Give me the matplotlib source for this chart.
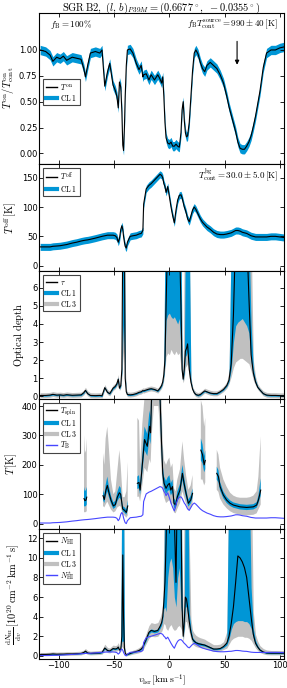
import numpy as np
import matplotlib
matplotlib.use("Agg")
import matplotlib.pyplot as plt
from matplotlib.lines import Line2D

plt.rcParams["mathtext.fontset"] = "cm"
plt.rcParams["font.family"] = ["DejaVu Sans"]
plt.rcParams["xtick.direction"] = "in"
plt.rcParams["ytick.direction"] = "in"
plt.rcParams["xtick.top"] = True
plt.rcParams["ytick.right"] = True
plt.rcParams["axes.linewidth"] = 0.8

nan = np.nan

# ---- velocity grid shared by panels 1, 2, 3 and 5 (km/s) -------------
vel = [-117, -112, -108, -105.5, -102, -99, -96, -93, -88, -84,
       -80, -77.5, -76, -74, -71.5, -67, -63, -61, -58.5, -56,
       -54, -51, -49, -47.5, -46.3, -45.2, -44, -43, -42.2, -41.5,
       -40.7, -40, -39, -38, -35.5, -33, -30, -27.5, -25.5, -24,
       -23.3, -21, -18.5, -16.5, -13.5, -10.5, -8.5, -7, -6, -5,
       -4, -3, -1.5, 0, 1.5, 3, 4.5, 6, 7.5, 9,
       10.5, 11.5, 12.5, 13.5, 14.5, 15.5, 16.5, 18, 19.5, 21,
       22.5, 24, 26, 28, 30, 32, 34, 37, 40, 43,
       46, 49, 52, 54, 56, 58, 60, 62, 64, 66,
       68, 70, 72, 74, 76, 78, 80, 82, 85, 88,
       92, 96, 100, 104]

# ---- panel 1: T_on / T_on_cont -------------------------------------
t_on = [1.00, 0.985, 0.95, 0.89, 0.93, 0.915, 0.94, 0.90, 0.93, 0.92,
        0.91, 0.82, 0.74, 0.85, 0.97, 0.985, 0.97, 1.00, 0.65, 0.79,
        0.87, 0.66, 0.61, 0.55, 0.44, 0.69, 0.64, 0.40, 0.08, 0.03,
        0.25, 0.55, 0.85, 1.00, 1.01, 0.97, 0.87, 0.81, 0.85, 0.74,
        0.76, 0.77, 0.71, 0.76, 0.71, 0.76, 0.72, 0.68, 0.74, 0.55,
        0.30, 0.15, 0.10, 0.09, 0.11, 0.07, 0.07, 0.09, 0.07, 0.06,
        0.20, 0.42, 0.50, 0.32, 0.20, 0.16, 0.17, 0.30, 0.55, 0.80,
        0.97, 1.00, 0.96, 0.88, 0.82, 0.79, 0.85, 0.88, 0.85, 0.82,
        0.76, 0.68, 0.55, 0.45, 0.37, 0.29, 0.21, 0.11, 0.05, 0.04,
        0.04, 0.07, 0.11, 0.17, 0.26, 0.36, 0.48, 0.60, 0.83, 0.97,
        1.00, 1.00, 1.02, 1.03]
t_on_sig = 0.045

# ---- panel 2: T_off [K] ----------------------------------------------
t_off = [32, 32, 32, 33, 33.5, 34, 35, 36, 38.5, 40,
         42, 43, 43.5, 44, 45, 47, 49, 50, 51, 52,
         52, 52, 51, 48, 40, 46, 62, 68, 62, 50,
         40, 33, 30, 40, 50, 51, 52, 54, 55, 60,
         105, 131, 137, 140, 146, 152, 156, 154, 150, 140,
         135, 125, 135, 118, 100, 85, 73, 95, 112, 120,
         121, 116, 108, 100, 95, 88, 80, 75, 85, 95,
         100, 96, 88, 80, 74, 70, 66, 62, 57, 54,
         53, 53, 54, 55, 56, 58, 60, 60, 59, 57,
         56, 55, 53, 51, 50, 49, 49, 49, 49, 49,
         50, 50, 49, 48]
t_off_sig = 6.0

# ---- panel 3: optical depth -----------------------------------------
tau = [0.05, 0.05, 0.07, 0.11, 0.07, 0.08, 0.06, 0.09, 0.06, 0.07,
       0.08, 0.20, 0.33, 0.15, 0.05, 0.04, 0.05, 0.03, 0.48, 0.22,
       0.15, 0.45, 0.55, 0.70, 0.95, 0.45, 0.60, 1.50, 9.0, 9.0,
       9.0, 1.00, 0.25, 0.10, 0.08, 0.10, 0.15, 0.22, 0.25, 0.32,
       0.30, 0.35, 0.40, 0.42, 0.38, 0.30, 0.45, 0.60, 0.80, 1.20,
       2.00, 5.00, 9.0, 9.0, 9.0, 9.0, 9.0, 9.0, 9.0, 9.0,
       5.00, 1.50, 0.95, 1.50, 2.50, 2.65, 2.90, 1.50, 0.80, 0.40,
       0.20, 0.10, 0.06, 0.10, 0.20, 0.30, 0.25, 0.18, 0.15, 0.15,
       0.25, 0.38, 0.60, 0.90, 1.80, 4.50, 9.0, 9.0, 9.0, 9.0,
       9.0, 9.0, 5.50, 2.30, 1.30, 0.80, 0.50, 0.35, 0.15, 0.07,
       0.05, 0.05, 0.04, 0.04]
tau_cl1_lo = [0.01, 0.01, 0.03, 0.07, 0.03, 0.04, 0.02, 0.05, 0.02, 0.03,
              0.04, 0.16, 0.29, 0.11, 0.01, 0.00, 0.01, -0.01, 0.43, 0.18,
              0.11, 0.40, 0.50, 0.64, 0.88, 0.40, 0.54, 1.30, 3.00, 4.00,
              2.50, 0.90, 0.21, 0.06, 0.04, 0.06, 0.11, 0.18, 0.21, 0.28,
              0.26, 0.31, 0.36, 0.38, 0.34, 0.26, 0.40, 0.55, 0.74, 1.10,
              1.80, 4.20, 4.50, 4.60, 4.40, 4.30, 4.40, 4.20, 4.00, 4.30,
              2.50, 1.30, 0.88, 1.30, 2.20, 2.30, 2.50, 1.30, 0.72, 0.36,
              0.16, 0.06, 0.02, 0.06, 0.16, 0.26, 0.21, 0.14, 0.11, 0.11,
              0.21, 0.34, 0.55, 0.82, 1.50, 3.00, 3.90, 4.10, 4.20, 4.30,
              4.10, 3.90, 3.50, 1.90, 1.10, 0.70, 0.45, 0.31, 0.11, 0.03,
              0.01, 0.01, 0.00, 0.00]
tau_cl1_hi = [0.09, 0.09, 0.11, 0.15, 0.11, 0.12, 0.10, 0.13, 0.10, 0.11,
              0.12, 0.24, 0.38, 0.19, 0.09, 0.08, 0.09, 0.07, 0.53, 0.26,
              0.19, 0.50, 0.60, 0.76, 1.05, 0.50, 0.66, 1.80, 9.0, 9.0,
              9.0, 1.20, 0.30, 0.14, 0.12, 0.14, 0.19, 0.26, 0.29, 0.36,
              0.34, 0.39, 0.44, 0.46, 0.42, 0.34, 0.50, 0.66, 0.88, 1.40,
              9.0, 9.0, 9.0, 9.0, 9.0, 9.0, 9.0, 9.0, 9.0, 9.0,
              9.0, 1.80, 1.02, 1.80, 9.0, 9.0, 9.0, 9.0, 0.90, 0.45,
              0.24, 0.14, 0.10, 0.14, 0.24, 0.34, 0.29, 0.22, 0.19, 0.19,
              0.29, 0.42, 0.66, 1.00, 9.0, 9.0, 9.0, 9.0, 9.0, 9.0,
              9.0, 9.0, 9.0, 4.00, 1.55, 0.90, 0.56, 0.40, 0.19, 0.11,
              0.09, 0.09, 0.08, 0.08]
tau_cl3_lo = [-0.07, -0.07, -0.05, -0.01, -0.05, -0.04, -0.06, -0.03, -0.06, -0.05,
              -0.04, 0.08, 0.20, 0.03, -0.07, -0.08, -0.07, -0.09, 0.35, 0.10,
              0.03, 0.32, 0.42, 0.56, 0.78, 0.32, 0.46, 1.00, 2.00, 2.50,
              1.80, 0.70, 0.12, -0.02, -0.04, -0.02, 0.03, 0.10, 0.13, 0.20,
              0.18, 0.23, 0.28, 0.30, 0.26, 0.18, 0.32, 0.45, 0.62, 0.90,
              1.50, 2.20, 2.40, 2.30, 2.60, 2.40, 2.30, 2.50, 2.30, 2.40,
              1.60, 1.00, 0.75, 1.00, 1.60, 1.70, 1.80, 1.00, 0.60, 0.28,
              0.08, -0.02, -0.06, -0.02, 0.08, 0.18, 0.13, 0.06, 0.03, 0.03,
              0.13, 0.26, 0.45, 0.70, 1.10, 1.60, 1.90, 2.00, 2.10, 2.10,
              2.00, 1.90, 1.80, 1.40, 0.90, 0.60, 0.38, 0.23, 0.03, -0.05,
              -0.07, -0.07, -0.08, -0.08]
tau_cl3_hi = [0.20, 0.20, 0.22, 0.26, 0.22, 0.23, 0.21, 0.24, 0.21, 0.22,
              0.23, 0.35, 0.50, 0.30, 0.20, 0.19, 0.20, 0.18, 0.65, 0.37,
              0.30, 0.62, 0.72, 0.88, 1.20, 0.62, 0.78, 3.00, 9.0, 9.0,
              9.0, 1.80, 0.42, 0.25, 0.23, 0.25, 0.30, 0.37, 0.40, 0.47,
              0.45, 0.50, 0.55, 0.57, 0.53, 0.45, 0.62, 0.80, 1.10, 2.20,
              9.0, 9.0, 9.0, 9.0, 9.0, 9.0, 9.0, 9.0, 9.0, 9.0,
              9.0, 3.00, 1.20, 9.0, 9.0, 9.0, 9.0, 9.0, 1.10, 0.55,
              0.35, 0.25, 0.21, 0.25, 0.35, 0.45, 0.40, 0.33, 0.30, 0.30,
              0.40, 0.55, 0.80, 1.40, 9.0, 9.0, 9.0, 9.0, 9.0, 9.0,
              9.0, 9.0, 9.0, 9.0, 2.00, 1.10, 0.68, 0.50, 0.30, 0.22,
              0.20, 0.20, 0.19, 0.19]

# ---- panel 4: spin temperature (own velocities, nan = gap) -----------
vel_spin = [-77.3, -76.5, -75.5, -74.8, nan,
            -60.1, -58.9, -57.7, -56.2, -55, -52.9, -50.7, -48.9, -47.1,
            -45.3, -44.1, -42.3, -40.5, -39, -37.7, nan,
            -29, -27.5, -26.5, -24.5, -22.5, -20, -18, -17, -16, -14,
            -12, -10, -9, -8.4, -7.2, -6, -4.8, -3, -1.5, 0,
            1.3, 2.8, 4.2, 5.7, 7.2, 9.6, 11.8, 13.3, 15.1, 17.2,
            19.3, 21, nan,
            28.5, 30, 31.5, 32.5, nan,
            42.9, 44.4, 45.9, 48.9, 51.9, 55, 58, 61, 64, 67,
            70, 73, 76, 79, 80.6, 82.7]
t_spin = [85, 78, 80, 90, nan,
          95, 82, 110, 130, 110, 80, 60, 65, 90,
          105, 100, 50, 45, 38, 60, nan,
          137, 140, 114, 200, 286, 263, 331, 309, 450, 600,
          600, 600, 520, 423, 286, 171, 137, 120, 131, 137,
          114, 126, 69, 63, 91, 114, 171, 137, 103, 69,
          80, 103, nan,
          250, 235, 200, 215, nan,
          171, 160, 126, 97, 80, 69, 63, 60, 57, 56,
          55, 56, 57, 63, 80, 114]
t_spin_cl1_lo = [60, 58, 60, 65, nan,
                 80, 70, 92, 110, 93, 68, 50, 55, 76,
                 88, 84, 42, 37, 30, 45, nan,
                 118, 120, 98, 172, 250, 230, 290, 270, 390, 520,
                 520, 520, 450, 370, 250, 150, 118, 100, 110, 115,
                 96, 106, 55, 50, 75, 98, 148, 118, 88, 58,
                 68, 88, nan,
                 215, 205, 175, 185, nan,
                 150, 140, 112, 86, 70, 60, 54, 51, 48, 47,
                 46, 47, 48, 54, 68, 95]
t_spin_cl1_hi = [125, 110, 115, 125, nan,
                 115, 98, 132, 160, 132, 95, 72, 78, 108,
                 128, 122, 60, 55, 48, 80, nan,
                 160, 165, 133, 235, 330, 305, 385, 360, 520, 700,
                 700, 700, 600, 490, 330, 198, 160, 145, 158, 165,
                 137, 150, 85, 78, 110, 135, 200, 160, 120, 82,
                 95, 120, nan,
                 290, 270, 230, 250, nan,
                 194, 182, 142, 109, 91, 79, 72, 69, 66, 65,
                 64, 65, 66, 73, 95, 154]
t_spin_cl3_lo = [40, 38, 40, 42, nan,
                 60, 55, 65, 75, 65, 48, 38, 42, 55,
                 60, 58, 32, 27, 20, 28, nan,
                 91, 92, 75, 130, 190, 175, 220, 205, 300, 400,
                 400, 400, 350, 280, 190, 115, 90, 70, 75, 80,
                 65, 70, 38, 35, 50, 70, 110, 90, 68, 45,
                 52, 68, nan,
                 150, 150, 130, 140, nan,
                 115, 108, 85, 65, 52, 42, 36, 33, 30, 29,
                 28, 29, 30, 35, 48, 65]
t_spin_cl3_hi = [300, 240, 250, 290, nan,
                 240, 200, 290, 330, 270, 150, 100, 110, 180,
                 250, 200, 90, 90, 110, 210, nan,
                 360, 350, 200, 340, 430, 420, 500, 480, 700, 900,
                 900, 900, 800, 650, 440, 270, 215, 200, 215, 225,
                 190, 205, 120, 110, 150, 185, 280, 220, 165, 115,
                 130, 165, nan,
                 420, 400, 330, 360, nan,
                 251, 235, 190, 150, 125, 105, 95, 90, 88, 88,
                 88, 90, 95, 110, 160, 297]

# brightness temperature (on the shared grid)
t_b = [2, 2, 2, 3, 3.5, 4, 5, 6, 8.5, 10,
       12, 13, 13.5, 14, 15, 17, 19, 20, 21, 22,
       22, 22, 21, 18, 10, 16, 32, 38, 32, 20,
       10, 3, 0, 10, 20, 21, 22, 24, 25, 30,
       75, 101, 107, 110, 116, 122, 126, 124, 120, 110,
       105, 95, 105, 88, 70, 55, 43, 65, 82, 90,
       91, 86, 78, 70, 65, 58, 50, 45, 55, 65,
       70, 66, 58, 50, 44, 40, 36, 32, 27, 24,
       23, 23, 24, 25, 26, 28, 30, 30, 29, 27,
       26, 25, 23, 21, 20, 19, 19, 19, 19, 19,
       20, 20, 19, 18]

# ---- panel 5: dN_HI/dv [1e20 cm^-2 km^-1 s] ---------------------------
n_hi = [0.15, 0.15, 0.17, 0.20, 0.17, 0.18, 0.18, 0.20, 0.20, 0.22,
        0.25, 0.35, 0.48, 0.30, 0.25, 0.28, 0.30, 0.35, 0.80, 0.55,
        0.50, 0.75, 0.70, 0.75, 0.90, 0.60, 0.70, 2.00, 10.3, 4.00,
        0.80, 0.30, 0.10, 0.15, 0.25, 0.35, 0.45, 0.55, 0.70, 0.90,
        1.10, 1.70, 2.40, 2.60, 2.50, 2.60, 3.00, 3.40, 4.00, 5.50,
        7.50, 11.5, 20.0, 20.0, 20.0, 20.0, 14.0, 7.50, 20.0, 20.0,
        15.0, 5.00, 2.00, 3.50, 6.00, 5.80, 5.00, 3.50, 2.40, 1.70,
        1.50, 1.35, 1.25, 1.20, 1.15, 1.10, 1.00, 0.85, 0.70, 0.70,
        0.75, 0.95, 1.30, 2.00, 3.30, 5.00, 7.50, 10.2, 10.0, 9.60,
        9.00, 8.00, 6.00, 4.00, 2.20, 1.30, 0.90, 0.60, 0.40, 0.30,
        0.28, 0.28, 0.28, 0.28]
n_hi_cl1_lo = [0.10, 0.10, 0.12, 0.15, 0.12, 0.13, 0.13, 0.15, 0.15, 0.17,
               0.20, 0.30, 0.42, 0.25, 0.20, 0.23, 0.25, 0.30, 0.70, 0.48,
               0.44, 0.67, 0.62, 0.67, 0.80, 0.53, 0.62, 1.50, 1.50, 1.50,
               0.65, 0.25, 0.06, 0.10, 0.20, 0.30, 0.40, 0.49, 0.63, 0.82,
               1.00, 1.55, 2.25, 2.45, 2.35, 2.45, 2.80, 3.15, 3.70, 4.80,
               5.00, 4.50, 8.00, 9.50, 10.0, 9.00, 6.00, 5.00, 8.00, 9.00,
               5.00, 4.00, 1.80, 3.00, 5.00, 5.00, 4.20, 3.00, 2.10, 1.50,
               1.35, 1.22, 1.12, 1.08, 1.03, 0.99, 0.90, 0.76, 0.62, 0.62,
               0.67, 0.85, 1.10, 1.70, 2.70, 3.30, 3.50, 3.60, 3.60, 3.60,
               3.50, 3.50, 3.30, 2.80, 1.80, 1.10, 0.78, 0.52, 0.34, 0.24,
               0.22, 0.22, 0.22, 0.22]
n_hi_cl1_hi = [0.20, 0.20, 0.22, 0.25, 0.22, 0.23, 0.23, 0.25, 0.25, 0.27,
               0.30, 0.40, 0.55, 0.35, 0.30, 0.33, 0.35, 0.40, 0.90, 0.62,
               0.56, 0.83, 0.78, 0.83, 1.00, 0.67, 0.78, 20.0, 20.0, 20.0,
               0.95, 0.35, 0.14, 0.20, 0.30, 0.40, 0.50, 0.61, 0.77, 0.98,
               1.20, 1.85, 2.55, 2.75, 2.65, 2.75, 3.20, 3.65, 4.30, 7.00,
               20.0, 20.0, 20.0, 20.0, 20.0, 20.0, 20.0, 20.0, 20.0, 20.0,
               20.0, 6.50, 2.20, 4.50, 20.0, 20.0, 20.0, 4.50, 2.80, 1.90,
               1.65, 1.48, 1.38, 1.32, 1.27, 1.21, 1.10, 0.94, 0.78, 0.78,
               0.83, 1.05, 1.50, 20.0, 20.0, 20.0, 20.0, 20.0, 20.0, 20.0,
               20.0, 20.0, 20.0, 7.00, 2.80, 1.60, 1.05, 0.70, 0.46, 0.36,
               0.34, 0.34, 0.34, 0.34]
n_hi_cl3_lo = [0.02, 0.02, 0.04, 0.06, 0.04, 0.05, 0.05, 0.06, 0.06, 0.08,
               0.10, 0.18, 0.28, 0.14, 0.10, 0.12, 0.14, 0.18, 0.50, 0.34,
               0.30, 0.50, 0.45, 0.50, 0.60, 0.38, 0.45, 1.00, 0.80, 0.80,
               0.40, 0.12, 0.00, 0.02, 0.10, 0.18, 0.25, 0.32, 0.42, 0.60,
               0.75, 1.25, 1.80, 2.00, 1.95, 2.00, 2.30, 2.50, 2.80, 3.30,
               3.20, 2.80, 2.60, 3.00, 3.20, 2.80, 2.60, 2.70, 3.00, 3.10,
               2.80, 2.50, 1.40, 2.40, 3.50, 3.50, 3.00, 2.40, 1.70, 1.20,
               1.05, 0.95, 0.88, 0.84, 0.80, 0.76, 0.68, 0.56, 0.45, 0.45,
               0.50, 0.65, 0.80, 1.20, 1.60, 1.80, 1.90, 2.00, 2.00, 2.00,
               1.90, 1.90, 1.80, 1.60, 1.20, 0.80, 0.55, 0.35, 0.20, 0.12,
               0.10, 0.10, 0.10, 0.10]
n_hi_cl3_hi = [0.35, 0.35, 0.38, 0.42, 0.38, 0.40, 0.40, 0.42, 0.42, 0.45,
               0.48, 0.60, 0.75, 0.55, 0.48, 0.52, 0.55, 0.60, 1.20, 0.85,
               0.80, 1.10, 1.05, 1.10, 1.35, 0.95, 1.10, 20.0, 20.0, 20.0,
               1.50, 0.55, 0.25, 0.32, 0.45, 0.58, 0.70, 0.85, 1.05, 1.30,
               1.55, 2.30, 3.10, 3.40, 3.30, 3.40, 3.90, 4.50, 5.50, 13.0,
               20.0, 20.0, 20.0, 20.0, 20.0, 20.0, 20.0, 20.0, 20.0, 20.0,
               20.0, 10.0, 3.20, 20.0, 20.0, 20.0, 20.0, 12.0, 3.80, 2.60,
               2.30, 2.10, 1.95, 1.85, 1.78, 1.70, 1.55, 1.35, 1.15, 1.15,
               1.20, 1.45, 2.50, 20.0, 20.0, 20.0, 20.0, 20.0, 20.0, 20.0,
               20.0, 20.0, 20.0, 20.0, 4.50, 2.20, 1.50, 1.05, 0.75, 0.60,
               0.55, 0.55, 0.55, 0.55]
n_hi_thin = [0.04, 0.04, 0.04, 0.05, 0.06, 0.07, 0.09, 0.11, 0.15, 0.18,
             0.22, 0.24, 0.25, 0.26, 0.27, 0.31, 0.35, 0.36, 0.38, 0.40,
             0.40, 0.40, 0.38, 0.33, 0.18, 0.29, 0.58, 0.69, 0.58, 0.36,
             0.18, 0.05, 0.00, 0.18, 0.36, 0.38, 0.40, 0.44, 0.46, 0.55,
             1.37, 1.84, 1.95, 2.01, 2.11, 2.22, 2.30, 2.26, 2.19, 2.01,
             1.91, 1.73, 1.91, 1.60, 1.28, 1.00, 0.78, 1.18, 1.49, 1.64,
             1.66, 1.57, 1.42, 1.28, 1.18, 1.06, 0.91, 0.82, 1.00, 1.18,
             1.28, 1.20, 1.06, 0.91, 0.80, 0.73, 0.66, 0.58, 0.49, 0.44,
             0.42, 0.42, 0.44, 0.46, 0.47, 0.51, 0.55, 0.55, 0.53, 0.49,
             0.47, 0.46, 0.42, 0.38, 0.36, 0.35, 0.35, 0.35, 0.35, 0.35,
             0.36, 0.36, 0.35, 0.33]

# ---- styling ---------------------------------------------------------
C_CL1 = "#0096d6"
C_CL3 = "#c0c0c0"
C_TB = "#4646ff"
LW = 0.8
XLIM = (-117.6, 103.8)
TICK_FS = 6
LAB_FS = 7.5
LEG_FS = 5.5

fig = plt.figure(figsize=(2.87, 6.88), dpi=100)
left, width = 0.1376, 0.852
rects = [(0.7620, 0.2195), (0.6054, 0.1566), (0.4205, 0.1849),
         (0.2304, 0.1901), (0.0417, 0.1887)]
axes = [fig.add_axes([left, b, width, h]) for b, h in rects]

v = np.array(vel)


def h_line(c, lw):
    return Line2D([], [], color=c, lw=lw)


def legend(ax, labels, colors, widths, **kw):
    handles = [h_line(c, w) for c, w in zip(colors, widths)]
    leg = ax.legend(handles, labels, fontsize=LEG_FS, handlelength=1.4,
                    handletextpad=0.5, borderpad=0.35, labelspacing=0.1,
                    fancybox=False, framealpha=1, edgecolor="#444444", **kw)
    leg.get_frame().set_linewidth(0.8)
    return leg


# panel 1
ax = axes[0]
ton = np.array(t_on)
ax.fill_between(v, ton - t_on_sig, ton + t_on_sig, color=C_CL1, lw=0)
ax.plot(v, ton, color="k", lw=LW)
ax.set_ylim(-0.1, 1.36)
ax.set_yticks([0, 0.25, 0.5, 0.75, 1.0])
ax.set_ylabel(r"$T^{\rm on}/T^{\rm on}_{\rm cont}$", fontsize=LAB_FS, labelpad=2)
ax.text(0.045, 0.925, r"$f_{\rm B} = 100\%$", transform=ax.transAxes,
        fontsize=6.5, va="center", ha="left")
ax.text(0.975, 0.925, r"$f_{\rm B}T^{\rm source}_{\rm cont} = 990 \pm 40\,[{\rm K}]$",
        transform=ax.transAxes, fontsize=6.5, va="center", ha="right")
ax.annotate("", xy=(61.3, 0.83), xytext=(61.3, 1.11),
            arrowprops=dict(arrowstyle="-|>", color="k", lw=0.8,
                            mutation_scale=6))
legend(ax, [r"$T^{\rm on}$", r"${\rm CL\,1}$"], ["k", C_CL1], [1.0, 3.0],
       loc="upper left", bbox_to_anchor=(0.0, 0.585))
fig.text(0.5625, 0.9985,
         r"${\rm SGR\,B2},\ (l,\,b)_{P39M} = (0.6677^\circ,\ -0.0355^\circ)$",
         fontsize=7.5, ha="center", va="top")

# panel 2
ax = axes[1]
toff = np.array(t_off)
ax.fill_between(v, toff - t_off_sig, toff + t_off_sig, color=C_CL1, lw=0)
ax.plot(v, toff, color="k", lw=LW)
ax.set_ylim(-10, 174)
ax.set_yticks([0, 50, 100, 150])
ax.set_ylabel(r"$T^{\rm off}\,[{\rm K}]$", fontsize=LAB_FS, labelpad=2)
ax.text(0.975, 0.89, r"$T^{\rm bg}_{\rm cont} = 30.0 \pm 5.0\,[{\rm K}]$",
        transform=ax.transAxes, fontsize=6.5, va="center", ha="right")
legend(ax, [r"$T^{\rm off}$", r"${\rm CL\,1}$"], ["k", C_CL1], [1.0, 3.0],
       loc="upper left", bbox_to_anchor=(0.0, 1.0))

# panel 3
ax = axes[2]
ax.fill_between(v, tau_cl3_lo, tau_cl3_hi, color=C_CL3, lw=0)
ax.fill_between(v, tau_cl1_lo, tau_cl1_hi, color=C_CL1, lw=0)
ax.plot(v, tau, color="k", lw=LW)
ax.set_ylim(-0.13, 6.9)
ax.set_yticks(range(0, 7))
ax.set_ylabel(r"${\rm Optical\ depth}$", fontsize=LAB_FS, labelpad=4)
legend(ax, [r"$\tau$", r"${\rm CL\,1}$", r"${\rm CL\,3}$"],
       ["k", C_CL1, C_CL3], [1.0, 3.0, 3.0],
       loc="upper left", bbox_to_anchor=(0.0, 1.0))

# panel 4
ax = axes[3]
vs = np.array(vel_spin)
ax.fill_between(vs, t_spin_cl3_lo, t_spin_cl3_hi, color=C_CL3, lw=0)
ax.fill_between(vs, t_spin_cl1_lo, t_spin_cl1_hi, color=C_CL1, lw=0)
ax.plot(vs, t_spin, color="k", lw=LW)
ax.plot(v, t_b, color=C_TB, lw=0.8)
ax.set_ylim(-20, 425)
ax.set_yticks([0, 100, 200, 300, 400])
ax.set_ylabel(r"$T\,[{\rm K}]$", fontsize=LAB_FS, labelpad=2)
legend(ax, [r"$T_{\rm spin}$", r"${\rm CL\,1}$", r"${\rm CL\,3}$", r"$T_{\rm B}$"],
       ["k", C_CL1, C_CL3, C_TB], [1.0, 3.0, 3.0, 1.0],
       loc="upper left", bbox_to_anchor=(0.0, 1.0))

# panel 5
ax = axes[4]
ax.fill_between(v, n_hi_cl3_lo, n_hi_cl3_hi, color=C_CL3, lw=0)
ax.fill_between(v, n_hi_cl1_lo, n_hi_cl1_hi, color=C_CL1, lw=0)
ax.plot(v, n_hi, color="k", lw=LW)
ax.plot(v, n_hi_thin, color=C_TB, lw=0.8)
ax.set_ylim(-0.35, 12.9)
ax.set_yticks(range(0, 13, 2))
ax.set_ylabel(r"$\frac{{\rm d}N_{\rm HI}}{{\rm d}v}\,[10^{20}\,{\rm cm^{-2}\,km^{-1}\,s}]$",
              fontsize=LAB_FS, labelpad=2)
ax.set_xlabel(r"$v_{\rm lsr}\,[{\rm km\,s^{-1}}]$", fontsize=7, labelpad=1)
legend(ax, [r"$N_{\rm HI}$", r"${\rm CL\,1}$", r"${\rm CL\,3}$", r"$N^{*}_{\rm HI}$"],
       ["k", C_CL1, C_CL3, C_TB], [1.0, 3.0, 3.0, 1.0],
       loc="upper left", bbox_to_anchor=(0.0, 1.0))

for i, ax in enumerate(axes):
    ax.set_xlim(*XLIM)
    ax.set_xticks([-100, -50, 0, 50, 100])
    ax.tick_params(labelsize=TICK_FS, length=3, width=0.6, pad=1.5)
    if i < len(axes) - 1:
        ax.tick_params(labelbottom=False)

fig.align_ylabels(axes)
fig.savefig("out.png", dpi=100)
